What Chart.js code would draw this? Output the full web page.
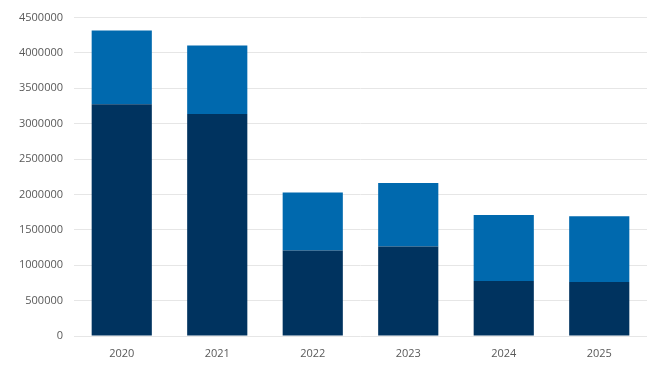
<!DOCTYPE html>
<html lang="en">
<head>
    <meta charset="UTF-8">
    <title>Stacked bars 2020-2025</title>
    <style>
        html, body { margin: 0; padding: 0; background: #fff; }
        .wrap { width: 650px; height: 366px; position: relative; }
    </style>
</head>
<body>
    <div class="wrap">
        <canvas id="myChart" width="650" height="366"></canvas>
    </div>

    <script src="https://cdn.jsdelivr.net/npm/chart.js"></script>
    <script>
        // values
        var years = ['2020', '2021', '2022', '2023', '2024', '2025'];
        var lowerPart = [3277000, 3136000, 1209000, 1266000, 778000, 764000];
        var upperPart = [1040000, 970000, 820000, 895000, 933000, 928000];
        var yTicks = [0, 500000, 1000000, 1500000, 2000000, 2500000, 3000000, 3500000, 4000000, 4500000];

        var labelColor = '#595959';
        var fontFamily = "'Open Sans', 'Noto Sans', sans-serif";

        var ctx = document.getElementById('myChart').getContext('2d');
        new Chart(ctx, {
            type: 'bar',
            data: {
                labels: years,
                datasets: [
                    {
                        data: lowerPart,
                        backgroundColor: '#00335f',
                        categoryPercentage: 1,
                        barPercentage: 0.63
                    },
                    {
                        data: upperPart,
                        backgroundColor: '#0069ae',
                        categoryPercentage: 1,
                        barPercentage: 0.63
                    }
                ]
            },
            options: {
                responsive: false,
                animation: false,
                layout: { padding: { top: 13, right: 3, left: 0, bottom: 0 } },
                plugins: {
                    legend: { display: false },
                    tooltip: { enabled: false }
                },
                scales: {
                    x: {
                        stacked: true,
                        grid: { display: false, drawTicks: false },
                        border: { display: false },
                        ticks: {
                            color: labelColor,
                            font: { family: fontFamily, size: 11 },
                            padding: 11
                        },
                        afterFit: function (scale) { scale.height = 30; }
                    },
                    y: {
                        stacked: true,
                        min: 0,
                        max: yTicks[yTicks.length - 1],
                        afterBuildTicks: function (scale) {
                            scale.ticks = yTicks.map(function (v) { return { value: v }; });
                        },
                        grid: { color: '#e6e6e6', drawTicks: false },
                        border: { display: false },
                        ticks: {
                            color: labelColor,
                            font: { family: fontFamily, size: 11 },
                            padding: 11,
                            callback: function (v) { return String(v); }
                        },
                        afterFit: function (scale) { scale.width = 74; }
                    }
                }
            }
        });
    </script>
</body>
</html>
